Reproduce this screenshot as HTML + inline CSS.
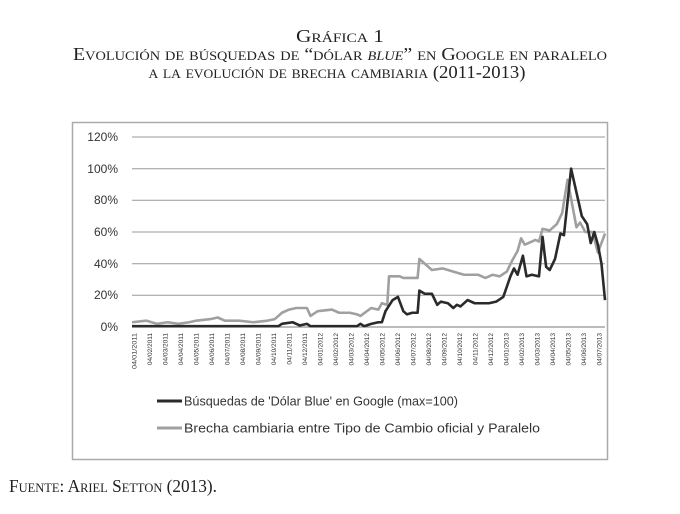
<!DOCTYPE html>
<html><head><meta charset="utf-8"><style>
html,body{margin:0;padding:0;background:#fff;}
svg{display:block;}
.t{font-family:"Liberation Serif",serif;fill:#222;}
.sc{font-variant:small-caps;}
.a{font-family:"Liberation Sans",sans-serif;fill:#333;}
</style></head><body>
<svg width="680" height="514" viewBox="0 0 680 514" xmlns="http://www.w3.org/2000/svg">
<rect width="680" height="514" fill="#fff"/>
<text class="t sc" x="340" y="42" text-anchor="middle" font-size="18" textLength="88" lengthAdjust="spacingAndGlyphs">Gráfica 1</text>
<text class="t sc" x="340" y="60" text-anchor="middle" font-size="18" textLength="534" lengthAdjust="spacingAndGlyphs">Evolución de búsquedas de “dólar <tspan font-style="italic">blue</tspan>” en Google en paralelo</text>
<text class="t sc" x="337" y="78" text-anchor="middle" font-size="18" textLength="377" lengthAdjust="spacingAndGlyphs">a la evolución de brecha cambiaria (2011-2013)</text>
<text class="t sc" x="9" y="492" font-size="18" textLength="208" lengthAdjust="spacingAndGlyphs">Fuente: Ariel Setton (2013).</text>
<rect x="72.5" y="122.5" width="535" height="337" fill="#fff" stroke="#aaa" stroke-width="1.5"/>
<g stroke="#999" stroke-width="1">
<line x1="132" x2="605" y1="137" y2="137"/><line x1="132" x2="605" y1="168.7" y2="168.7"/><line x1="132" x2="605" y1="200.3" y2="200.3"/><line x1="132" x2="605" y1="232" y2="232"/><line x1="132" x2="605" y1="263.7" y2="263.7"/><line x1="132" x2="605" y1="295.3" y2="295.3"/><line x1="132" x2="605" y1="327" y2="327" stroke="#777"/>
</g>
<g class="a" font-size="12" text-anchor="end">
<text x="118" y="141">120%</text><text x="118" y="173">100%</text><text x="118" y="204">80%</text><text x="118" y="236">60%</text><text x="118" y="268">40%</text><text x="118" y="299">20%</text><text x="118" y="331">0%</text>
</g>
<g transform="matrix(0.357,0,0,-1.5833,60.6,327)" fill="none" stroke-linejoin="round">
<polyline vector-effect="non-scaling-stroke" stroke="#a0a0a0" stroke-width="2.6" points="200,3 240,4 270,2 300,3 330,2 360,3 380,4 420,5 440,6 460,4 500,4 540,3 580,4 600,5 620,9 640,11 660,12 690,12 700,7 720,10 760,11 780,9 810,9 830,8 840,7 870,12 890,11 900,15 915,14 920,32 950,32 960,31 1000,31 1005,43 1040,36 1070,37 1100,35 1130,33 1170,33 1190,31 1210,33 1230,32 1250,35 1265,42 1280,48 1290,56 1300,52 1320,54 1330,55 1340,54 1350,62 1370,61 1390,65 1405,72 1420,93 1435,75 1445,63 1455,66 1470,60 1490,60 1505,47 1525,59"/>
<polyline vector-effect="non-scaling-stroke" stroke="#2a2a2a" stroke-width="2.6" points="200,0.5 610,0.5 620,2 650,3 670,1 690,2 700,0.5 830,0.5 840,2 850,0.5 870,2 890,3 900,3 910,10 930,17 945,19 960,10 970,8 985,9 1000,9 1005,23 1020,21 1040,21 1055,14 1065,16 1085,15 1100,12 1110,14 1120,13 1140,17 1160,15 1200,15 1220,16 1240,19 1260,32 1270,37 1280,33 1295,45 1305,32 1320,33 1340,32 1350,57 1360,38 1370,36 1385,43 1400,59 1410,58 1430,100 1445,85 1460,70 1475,65 1485,53 1495,60 1505,52 1515,40 1525,17"/>
</g>
<line x1="157" x2="182" y1="401" y2="401" stroke="#2a2a2a" stroke-width="3"/>
<line x1="157" x2="182" y1="428" y2="428" stroke="#a0a0a0" stroke-width="3"/>
<text class="a" x="184" y="405.5" font-size="13" textLength="274" lengthAdjust="spacingAndGlyphs">Búsquedas de 'Dólar Blue' en Google (max=100)</text>
<text class="a" x="184" y="432.5" font-size="13" textLength="356" lengthAdjust="spacingAndGlyphs">Brecha cambiaria entre Tipo de Cambio oficial y Paralelo</text>
<g class="a" font-size="6.5" text-anchor="end">
<text transform="translate(136.5,333) rotate(-90)" textLength="36" lengthAdjust="spacingAndGlyphs">04/01/2011</text>
<text transform="translate(152,333) rotate(-90)">04/02/2011</text>
<text transform="translate(167.5,333) rotate(-90)">04/03/2011</text>
<text transform="translate(183,333) rotate(-90)">04/04/2011</text>
<text transform="translate(198.5,333) rotate(-90)">04/05/2011</text>
<text transform="translate(214,333) rotate(-90)">04/06/2011</text>
<text transform="translate(229.5,333) rotate(-90)">04/07/2011</text>
<text transform="translate(245,333) rotate(-90)">04/08/2011</text>
<text transform="translate(260.5,333) rotate(-90)">04/09/2011</text>
<text transform="translate(276,333) rotate(-90)">04/10/2011</text>
<text transform="translate(291.5,333) rotate(-90)">04/11/2011</text>
<text transform="translate(307,333) rotate(-90)">04/12/2011</text>
<text transform="translate(322.5,333) rotate(-90)">04/01/2012</text>
<text transform="translate(338,333) rotate(-90)">04/02/2012</text>
<text transform="translate(353.5,333) rotate(-90)">04/03/2012</text>
<text transform="translate(369,333) rotate(-90)">04/04/2012</text>
<text transform="translate(384.5,333) rotate(-90)">04/05/2012</text>
<text transform="translate(400,333) rotate(-90)">04/06/2012</text>
<text transform="translate(415.5,333) rotate(-90)">04/07/2012</text>
<text transform="translate(431,333) rotate(-90)">04/08/2012</text>
<text transform="translate(446.5,333) rotate(-90)">04/09/2012</text>
<text transform="translate(462,333) rotate(-90)">04/10/2012</text>
<text transform="translate(477.5,333) rotate(-90)">04/11/2012</text>
<text transform="translate(493,333) rotate(-90)">04/12/2012</text>
<text transform="translate(508.5,333) rotate(-90)">04/01/2013</text>
<text transform="translate(524,333) rotate(-90)">04/02/2013</text>
<text transform="translate(539.5,333) rotate(-90)">04/03/2013</text>
<text transform="translate(555,333) rotate(-90)">04/04/2013</text>
<text transform="translate(570.5,333) rotate(-90)">04/05/2013</text>
<text transform="translate(586,333) rotate(-90)">04/06/2013</text>
<text transform="translate(601.5,333) rotate(-90)">04/07/2013</text>
</g>
</svg>
</body></html>
